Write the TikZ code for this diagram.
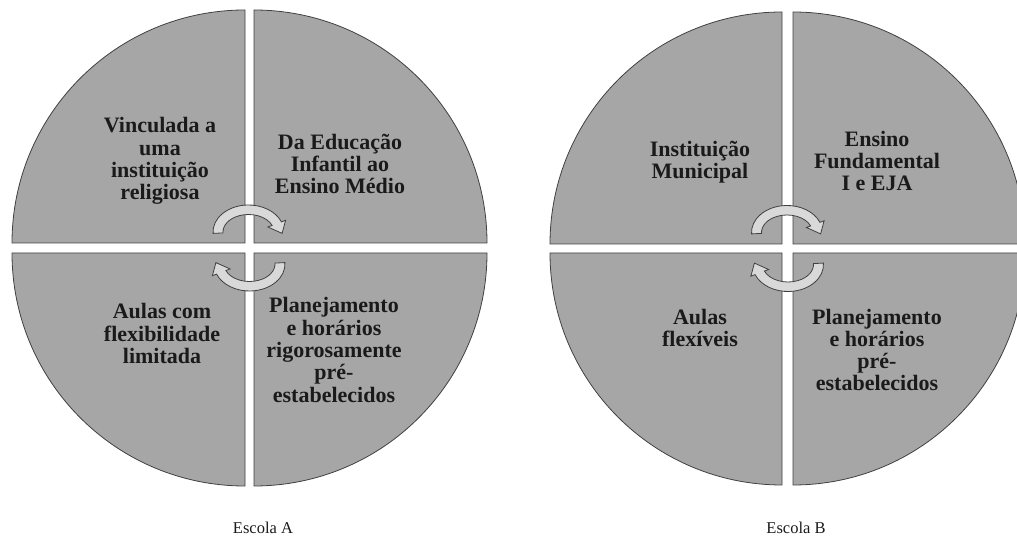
\documentclass[tikz,border=0pt]{standalone}
\usepackage{fontspec}
\setmainfont{Liberation Serif}
\definecolor{quadfill}{HTML}{A6A6A6}
\definecolor{quadline}{HTML}{404040}
\definecolor{arrfill}{HTML}{D9D9D9}
\definecolor{txtcol}{HTML}{1A1A1A}
\tikzset{
  quad/.style={fill=quadfill, draw=quadline, line width=0.8pt},
  arrsty/.style={fill=arrfill, draw=quadline, line width=0.8pt, line join=miter},
  txt/.style={align=center, font=\bfseries\fontsize{22}{22.3}\selectfont, text=txtcol, inner sep=0pt},
  captxt/.style={font=\fontsize{16.5}{18}\selectfont, text=txtcol, inner sep=0pt, anchor=base},
  cyc/.pic={
    \path[arrsty] (-35.95,14.59) arc[start angle=183,end angle=22,x radius=35.5,y radius=27]
      -- (36.6,27.7) -- (33.1,14.6) -- (18.9,21.0) -- (23.14,22.56)
      arc[start angle=22,end angle=183,x radius=25.5,y radius=17.5] -- cycle;
  }
}
\begin{document}
\begin{tikzpicture}[x=1pt,y=1pt]
\useasboundingbox (0,0) rectangle (1017,538);
% Escola A
\path[quad] (245,295) -- ++(-233,0) arc[start angle=180,end angle=90,radius=233] -- cycle;
\path[quad] (254,295) -- ++(0,233) arc[start angle=90,end angle=0,radius=233] -- cycle;
\path[quad] (245,285) -- ++(-233,0) arc[start angle=180,end angle=270,radius=233] -- cycle;
\path[quad] (254,285) -- ++(0,-233) arc[start angle=270,end angle=360,radius=233] -- cycle;
% Escola B
\path[quad] (782,294) -- ++(-232,0) arc[start angle=180,end angle=90,radius=232] -- cycle;
\path[quad] (793,294) -- ++(0,232) arc[start angle=90,end angle=0,radius=232] -- cycle;
\path[quad] (782,285) -- ++(-232,0) arc[start angle=180,end angle=270,radius=232] -- cycle;
\path[quad] (793,285) -- ++(0,-232) arc[start angle=270,end angle=360,radius=232] -- cycle;
% arrows
\pic at (249,290) {cyc};
\pic[rotate=180] at (249,290) {cyc};
\pic at (787.5,289.5) {cyc};
\pic[rotate=180] at (787.5,289.5) {cyc};
% texts A
\node[txt] (a1) at (160,377) {Vinculada a\\uma\\instituição\\religiosa};
\node[txt] (a2) at (340,374) {Da Educação\\Infantil ao\\Ensino Médio};
\node[txt] (a3) at (162,204.5) {Aulas com\\flexibilidade\\limitada};
\node[txt] (a4) at (334,188) {Planejamento\\e horários\\rigorosamente\\pré-\\estabelecidos};
% texts B
\node[txt] (b1) at (700,375.5) {Instituição\\Municipal};
\node[txt] (b2) at (877,377) {Ensino\\Fundamental\\I e EJA};
\node[txt] (b3) at (700,210) {Aulas\\flexíveis};
\node[txt] (b4) at (877,188) {Planejamento\\e horários\\pré-\\estabelecidos};
% captions
\node[captxt] (ca) at (263,5) {Escola A};
\node[captxt] (cb) at (796,5) {Escola B};
\end{tikzpicture}
\end{document}
